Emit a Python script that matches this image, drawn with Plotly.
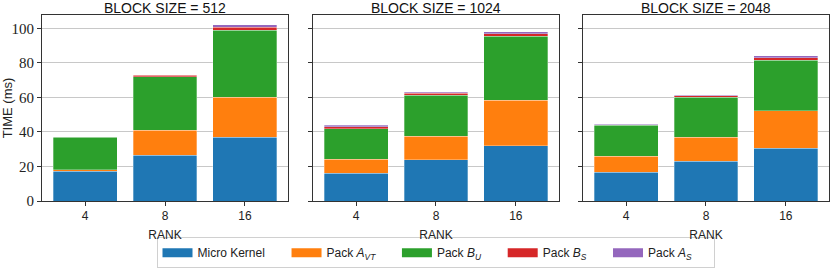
import plotly.graph_objects as go

ranks = ["4", "8", "16"]
block_sizes = ["512", "1024", "2048"]

series_names = ["Micro Kernel",
                "Pack <i>A</i><sub><i>VT</i></sub>",
                "Pack <i>B</i><sub><i>U</i></sub>",
                "Pack <i>B</i><sub><i>S</i></sub>",
                "Pack <i>A</i><sub><i>S</i></sub>"]
colors = ["#1f77b4", "#ff7f0e", "#2ca02c", "#d62728", "#9467bd"]

# stacked segment values per block size, over ranks 4, 8, 16
micro_kernel = {"512": [17.3, 26.6, 36.9], "1024": [16.2, 23.8, 32.0], "2048": [16.7, 23.0, 30.5]}
pack_avt = {"512": [0.7, 14.4, 23.3], "1024": [7.9, 13.7, 26.3], "2048": [9.1, 14.0, 21.7]}
pack_bu = {"512": [19.0, 31.1, 38.7], "1024": [17.7, 23.8, 37.2], "2048": [18.0, 23.0, 29.4]}
pack_bs = {"512": [0.1, 0.9, 1.8], "1024": [1.3, 1.2, 1.5], "2048": [0.3, 1.0, 1.5]}
pack_as = {"512": [0.05, 0.1, 1.4], "1024": [0.9, 0.5, 1.1], "2048": [0.3, 0.3, 1.1]}

series_data = [micro_kernel, pack_avt, pack_bu, pack_bs, pack_as]

fig = go.Figure()

domains = [[0.0, 0.3126], [0.3443, 0.6569], [0.6874, 1.0]]
sans = "Liberation Sans"
serif = "Liberation Serif"
top_margin, plot_h = 15, 193

for p, bsz in enumerate(block_sizes):
    xa = "x" if p == 0 else f"x{p+1}"
    ya = "y" if p == 0 else f"y{p+1}"
    for s in range(5):
        fig.add_trace(go.Bar(
            x=ranks, y=series_data[s][bsz], name=series_names[s],
            marker=dict(color=colors[s], line=dict(color="rgba(255,255,255,0.5)", width=0.6)),
            width=0.8, xaxis=xa, yaxis=ya, showlegend=False,
        ))
    axkey = "xaxis" if p == 0 else f"xaxis{p+1}"
    aykey = "yaxis" if p == 0 else f"yaxis{p+1}"
    fig.layout[axkey] = dict(
        domain=domains[p], anchor=ya, type="category", range=[-0.54, 2.54],
        showline=True, mirror=True, linecolor="#333", linewidth=1,
        ticks="outside", ticklen=4, tickcolor="#333", showgrid=False,
        tickfont=dict(family=sans, size=12, color="#222"), automargin=False,
        title=dict(text="RANK", font=dict(family=sans, size=12, color="#222"), standoff=8),
    )
    fig.layout[aykey] = dict(
        anchor=xa, range=[0, 107.8], tickvals=[0, 20, 40, 60, 80, 100],
        showticklabels=(p == 0), automargin=False,
        showline=True, mirror=True, linecolor="#333", linewidth=1,
        ticks="outside", ticklen=4, tickcolor="#333",
        showgrid=True, gridcolor="rgba(176,176,176,0.7)", gridwidth=1,
        zeroline=False, layer="above traces",
        tickfont=dict(family=serif, size=15, color="#222"),
    )
    if p == 0:
        fig.layout[aykey].title = dict(text="TIME (ms)", font=dict(family=sans, size=13, color="#222"), standoff=2)
    fig.add_annotation(
        text=f"BLOCK SIZE = {bsz}", xref="paper", yref="paper",
        x=(domains[p][0] + domains[p][1]) / 2, y=1.0 + top_margin / plot_h, yshift=2,
        xanchor="center", yanchor="top", showarrow=False, borderpad=0,
        font=dict(family=sans, size=14, color="#111"),
    )

# legend-only entries (wide colour swatches like the reference legend)
for s in range(5):
    fig.add_trace(go.Scatter(
        x=[None], y=[None], mode="lines", name=series_names[s] + "\u00a0" * 5,
        line=dict(color=colors[s], width=9), showlegend=True, hoverinfo="skip",
    ))

fig.update_layout(
    barmode="stack", width=830, height=269,
    margin=dict(l=42, r=1, t=top_margin, b=61),
    plot_bgcolor="white", paper_bgcolor="white",
    legend=dict(orientation="h", x=0.5, xanchor="center", y=-0.195, yanchor="top",
                bordercolor="#d0d0d0", borderwidth=1, font=dict(family=sans, size=12, color="#222"),
                traceorder="normal", itemwidth=30, tracegroupgap=0),
    showlegend=True,
)

fig.write_html("out.html", config={"displayModeBar": False},
               post_script="document.body.style.margin='0';document.body.style.overflow='hidden';")
